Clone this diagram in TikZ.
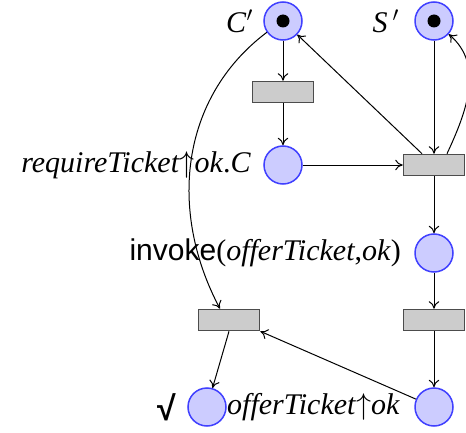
\RequirePackage{fix-cm}
\documentclass[tikz,border=0pt]{standalone}
\usepackage{fontspec}
\setmainfont{Liberation Serif}
\setsansfont{Liberation Sans}
\usetikzlibrary{arrows.meta}

\tikzset{
  place/.style={circle, draw=blue!75, fill=blue!20, line width=1.5pt, minimum size=38pt, inner sep=0pt},
  trans/.style={rectangle, draw=black!70, fill=black!20, line width=1.6pt, minimum width=61pt, minimum height=21pt, inner sep=0pt},
  token/.style={circle, fill=black, minimum size=13pt, inner sep=0pt},
  lbl/.style={font=\fontsize{30}{34}\selectfont, inner sep=0pt},
  arc/.style={-{To[length=7.5pt,width=10.5pt]}, line width=1pt}
}

\begin{document}
\begin{tikzpicture}[x=1pt,y=1pt]
        \useasboundingbox (0,0) rectangle (466,432); % frame of the picture

        % places
        \node[place] (C) at (283,411) {};
        \node[token] at (C) {};
        \node[place] (S) at (434,411) {};
        \node[token] at (S) {};
        \node[place] (req) at (283,267) {};
        \node[place] (inv) at (434,179) {};
        \node[place] (done) at (207,25) {};
        \node[place] (offer) at (434,25) {};

        % transitions
        \node[trans] (t1) at (283,340) {};
        \node[trans] (t2) at (434,267) {};
        \node[trans] (t3) at (229,112) {};
        \node[trans] (t4) at (434,112) {};

        % labels of the places
        \node[lbl, anchor=east] (lC) at (253,411) {\textit{C}$'$};
        \node[lbl, anchor=east] (lS) at (399,411) {\textit{S}\,$'$};
        \node[lbl, anchor=east] (lreq) at (251,267) {\textit{requireTicket}$\uparrow$\textit{ok}.\textit{C}};
        \node[lbl, anchor=east] (linv) at (401,179) {\textsf{invoke}(\textit{offerTicket},\textit{ok})};
        \node[lbl, anchor=east] (ldone) at (176,25) {\fontsize{34}{38}\selectfont\textsf{\bfseries √}};
        \node[lbl, anchor=west] (loffer) at (227,25) {\textit{offerTicket}$\uparrow$\textit{ok}};

        % arcs
        \draw[arc] (C) -- (t1);
        \draw[arc] (t1) -- (req);
        \draw[arc] (req) -- (t2);
        \draw[arc] (S) -- (t2);
        \draw[arc] ([xshift=-12pt]t2.north) -- (C);
        \draw[arc] ([xshift=13pt]t2.north) to[out=65,in=-40] (S.-42);
        \draw[arc] (t2) -- (inv);
        \draw[arc] (inv) -- (t4);
        \draw[arc] (t4) -- (offer);
        \draw[arc] (offer) -- (t3.south east);
        \draw[arc] (t3.south) -- (done);
        \draw[arc] (C.-145) to[out=-143,in=118] ([xshift=-9pt]t3.north); % long arc to the left
    \end{tikzpicture}
\end{document}
